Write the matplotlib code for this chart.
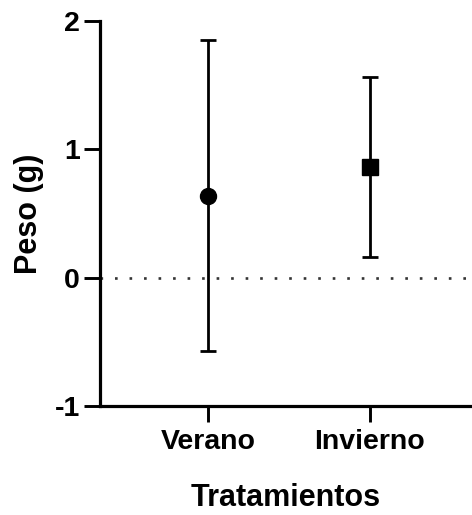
import matplotlib
matplotlib.use("Agg")
import matplotlib.pyplot as plt

categories = ["Verano", "Invierno"]
means = [0.64, 0.865]
upper = [1.855, 1.567]
lower = [-0.574, 0.164]
markers = ["o", "s"]

plt.rcParams.update({
    "font.family": ["Liberation Sans", "DejaVu Sans"],
    "font.weight": "bold",
    "axes.unicode_minus": False,
})

fig = plt.figure(figsize=(4.72, 5.15), dpi=100)
ax = fig.add_axes([100 / 472, 1 - 406 / 515, 372 / 472, 385 / 515])

for i, (m, hi, lo, mk) in enumerate(zip(means, upper, lower, markers)):
    ax.errorbar(i, m, yerr=[[m - lo], [hi - m]], fmt=mk, color="black",
                markersize=11.5 if mk == "o" else 11, elinewidth=2.0,
                capsize=6, capthick=2.0, zorder=3)

ax.axhline(0, color="#333333", linestyle=(0, (1, 4.5)), linewidth=1.9, zorder=1)

ax.set_xlim(-0.667, 1.63)
ax.set_ylim(-1, 2)
ax.set_yticks([-1, 0, 1, 2])
ax.set_xticks(range(len(categories)), categories)
ax.spines["top"].set_visible(False)
ax.spines["right"].set_visible(False)
for s in ("left", "bottom"):
    ax.spines[s].set_linewidth(2.3)
ax.tick_params(axis="both", width=2.1, length=11.5, labelsize=20.5)
ax.tick_params(axis="x", pad=5)
ax.tick_params(axis="y", pad=3)
for lab in ax.get_xticklabels() + ax.get_yticklabels():
    lab.set_fontweight("bold")

ax.set_ylabel("Peso (g)", fontsize=22, fontweight="bold", labelpad=8)
ax.set_xlabel("Tratamientos", fontsize=22, fontweight="bold", labelpad=20)

fig.savefig("out.png", dpi=100)
